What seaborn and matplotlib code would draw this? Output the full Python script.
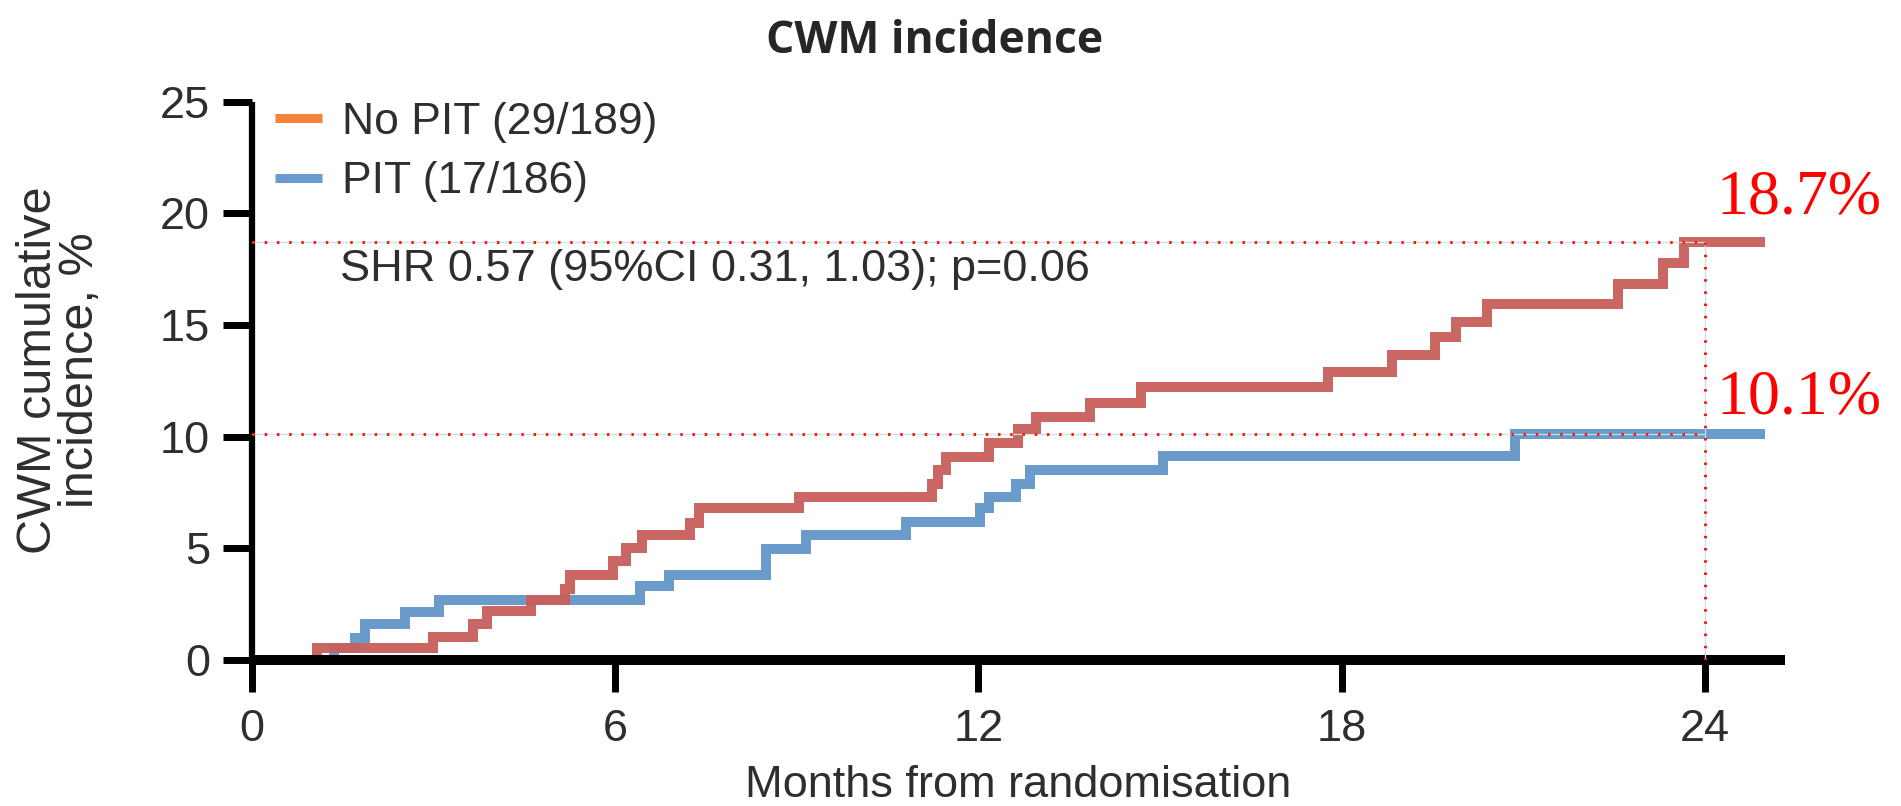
import matplotlib
matplotlib.use("Agg")
import matplotlib.pyplot as plt
from matplotlib.lines import Line2D
import pandas as pd
import seaborn as sns

# Cumulative incidence of CWM by arm (months from randomisation, %)
no_pit_months = [0, 1.08, 3.0, 3.66, 3.88, 4.62, 5.17, 5.25, 5.97, 6.18,
                 6.44, 7.24, 7.38, 9.04, 11.24, 11.33, 11.46, 12.18, 12.65, 12.96,
                 13.85, 14.69, 17.78, 18.84, 19.54, 19.89, 20.40, 22.56, 23.30, 23.66,
                 25.0]
no_pit_pct = [0, 0.52, 1.02, 1.63, 2.2, 2.69, 3.2, 3.8, 4.42, 5.01,
              5.6, 6.13, 6.8, 7.28, 7.88, 8.5, 9.07, 9.72, 10.35, 10.88,
              11.51, 12.23, 12.88, 13.68, 14.47, 15.13, 15.96, 16.82, 17.79, 18.7,
              18.7]
pit_months = [0, 1.36, 1.70, 1.87, 2.53, 3.09, 6.41, 6.89, 8.50, 9.15,
              10.81, 12.02, 12.18, 12.63, 12.85, 15.05, 20.87, 25.0]
pit_pct = [0, 0.52, 1.0, 1.62, 2.17, 2.69, 3.3, 3.81, 4.98, 5.6,
           6.16, 6.8, 7.28, 7.89, 8.52, 9.15, 10.1, 10.1]

groups = ["No PIT", "PIT"]
legend_labels = ["No PIT (29/189)", "PIT (17/186)"]
x_ticks = [0, 6, 12, 18, 24]
y_ticks = [0, 5, 10, 15, 20, 25]
landmark_month = 24
final_no_pit = 18.7
final_pit = 10.1
stats_text = "SHR 0.57 (95%CI 0.31, 1.03); p=0.06"

line_colors = {"No PIT": "#C95F5A", "PIT": "#6396C8"}
legend_colors = ["#F4833A", "#6A9BD0"]
text_color = "#2E2E2E"

df = pd.concat([
    pd.DataFrame({"month": no_pit_months, "pct": no_pit_pct, "group": "No PIT"}),
    pd.DataFrame({"month": pit_months, "pct": pit_pct, "group": "PIT"}),
], ignore_index=True)

sns.set_style("white")
plt.rcParams["font.family"] = ["Liberation Sans", "DejaVu Sans"]

fig = plt.figure(figsize=(19.01, 8.06), dpi=100)
ax = fig.add_axes([0.1324, 0.1811, 0.8068, 0.6927])

sns.lineplot(data=df, x="month", y="pct", hue="group", hue_order=["PIT", "No PIT"],
             palette=line_colors, drawstyle="steps-post", estimator=None,
             linewidth=7.2, legend=False, ax=ax,
             solid_joinstyle="miter", solid_capstyle="butt", alpha=0.95)

# landmark guides at 24 months
dot_style = dict(color="#FF1A00", linewidth=2.2, linestyle=(0, (0.8, 3.2)), zorder=4,
                 dash_capstyle="butt")
halo_style = dict(color="#BFE4EC", linewidth=0.9, zorder=3.9)
for val in (final_no_pit, final_pit):
    ax.plot([0, landmark_month], [val, val], **halo_style)
    ax.plot([0, landmark_month], [val, val], **dot_style)
ax.plot([landmark_month, landmark_month], [0, final_no_pit], **halo_style)
ax.plot([landmark_month, landmark_month], [0, final_no_pit], **dot_style)

ax.text(24.19, 20.0, f"{final_no_pit}%", color="#FF0000", fontsize=46,
        family="Liberation Serif", va="baseline", ha="left", clip_on=False)
ax.text(24.19, 11.05, f"{final_pit}%", color="#FF0000", fontsize=46,
        family="Liberation Serif", va="baseline", ha="left", clip_on=False)

ax.text(1.46, 16.96, stats_text, fontsize=32.5, color=text_color,
        va="baseline", ha="left")

ax.set_xlim(0, 25.33)
ax.set_ylim(0, 25)
ax.set_xticks(x_ticks)
ax.set_yticks(y_ticks)
ax.set_xlabel("Months from randomisation", fontsize=32.5, color=text_color, labelpad=11)
ax.set_ylabel("CWM cumulative\nincidence, %", fontsize=35, color=text_color,
              linespacing=0.92)
ax.yaxis.set_label_coords(-0.097, 0.52)

for side in ("top", "right"):
    ax.spines[side].set_visible(False)
ax.spines["bottom"].set_linewidth(7.2)
ax.spines["left"].set_linewidth(4.5)
ax.spines["bottom"].set_color("black")
ax.spines["left"].set_color("black")
ax.spines["bottom"].set_capstyle("butt")
ax.spines["left"].set_capstyle("butt")

ax.tick_params(axis="x", length=23, width=5, color="black", pad=12,
               labelsize=32.5, labelcolor=text_color, direction="out", bottom=True)
ax.tick_params(axis="y", length=21, width=5, color="black", pad=9,
               labelsize=32.5, labelcolor=text_color, direction="out", left=True)

handles = [Line2D([0], [0], color=c, linewidth=6.5, solid_capstyle="butt")
           for c in legend_colors]
fig.legend(handles, legend_labels, loc="upper left", bbox_to_anchor=(0.1447, 0.874),
           frameon=False, fontsize=32, borderpad=0, borderaxespad=0,
           handlelength=1.06, handletextpad=0.44, labelspacing=0.42,
           labelcolor=text_color)

fig.text(0.4918, 0.934, "CWM incidence", fontsize=32, fontweight="bold",
         family=["Open Sans", "DejaVu Sans"], color="#262626",
         ha="center", va="baseline")

fig.savefig("out.png", dpi=100, facecolor="white")
